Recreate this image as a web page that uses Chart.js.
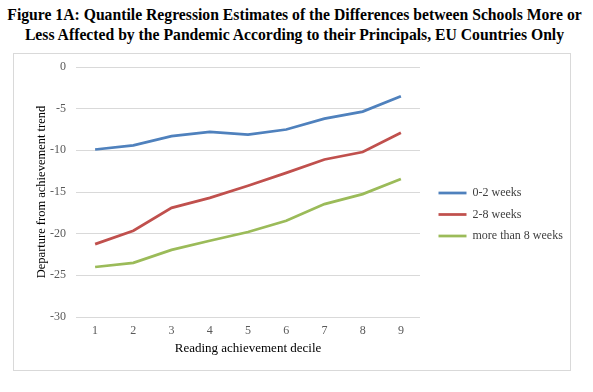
<!DOCTYPE html>
<html>
<head>
<meta charset="utf-8">
<script src="https://cdn.jsdelivr.net/npm/chart.js@4.4.1/dist/chart.umd.min.js"></script>
<style>
  html, body { margin: 0; padding: 0; background: #fff; width: 593px; height: 392px; overflow: hidden; }
  #title { position: absolute; left: 0; top: 5px; width: 589px; text-align: center; white-space: nowrap;
    font-family: "Liberation Serif", "Times New Roman", serif; font-weight: bold; font-size: 15.7px;
    line-height: 20px; color: #000; }
  #box { position: absolute; left: 13px; top: 53px; width: 556px; height: 316px; border: 1px solid #d9d9d9; }
  canvas { display: block; }
</style>
</head>
<body>
<div id="title">Figure 1A: Quantile Regression Estimates of the Differences between Schools More or<br>Less Affected by the Pandemic According to their Principals, EU Countries Only</div>
<div id="box"><canvas id="c" width="556" height="316"></canvas></div>
<script>
const deciles = ["1", "2", "3", "4", "5", "6", "7", "8", "9"];
const weeks0to2 = [-9.9, -9.4, -8.3, -7.8, -8.1, -7.5, -6.2, -5.35, -3.5];
const weeks2to8 = [-21.25, -19.65, -16.9, -15.7, -14.25, -12.7, -11.1, -10.2, -7.9];
const weeksOver8 = [-24.0, -23.5, -21.95, -20.85, -19.8, -18.45, -16.45, -15.25, -13.45];
const seriesNames = ["0-2 weeks", "2-8 weeks", "more than 8 weeks"];
const yTicks = [0, -5, -10, -15, -20, -25, -30];

const serif = "'Liberation Serif', 'Times New Roman', serif";
const colors = ["#4F81BD", "#C0504D", "#9BBB59"];

// widen the legend box and shift its items, so there is a wider gap after the plot area
const legendShift = {
  id: 'legendShift',
  beforeLayout(chart) {
    const lg = chart.legend;
    if (lg && !lg._widened) {
      const origFit = lg.fit.bind(lg);
      lg.fit = function () { origFit(); this.width += 16; };
      lg._widened = true;
    }
  },
  afterLayout(chart) {
    const lg = chart.legend;
    if (lg) { lg.left += 9; lg.right += 9; lg.top += 3; lg.bottom += 3; }
  }
};

new Chart(document.getElementById('c'), {
  type: 'line',
  data: {
    labels: deciles,
    datasets: [weeks0to2, weeks2to8, weeksOver8].map((d, i) => ({
      label: seriesNames[i],
      data: d,
      borderColor: colors[i],
      backgroundColor: colors[i],
      borderWidth: 2.75,
      pointRadius: 0,
      pointHoverRadius: 0,
      tension: 0,
      pointStyle: 'line'
    }))
  },
  plugins: [legendShift],
  options: {
    responsive: false,
    animation: false,
    events: [],
    layout: { padding: { left: 20, right: 0, top: 13, bottom: 14 } },
    plugins: {
      title: { display: false },
      tooltip: { enabled: false },
      legend: {
        position: 'right',
        fullSize: true,
        labels: {
          usePointStyle: true,
          pointStyleWidth: 28,
          boxHeight: 12,
          padding: 9.5,
          color: '#404040',
          font: { family: serif, size: 12 }
        }
      }
    },
    scales: {
      x: {
        type: 'category',
        offset: true,
        grid: { display: false, drawTicks: false },
        border: { display: false },
        ticks: { color: '#595959', font: { family: serif, size: 12 }, padding: 7, maxRotation: 0 },
        title: { display: true, text: 'Reading achievement decile', color: '#000', font: { family: serif, size: 13 }, padding: { top: 3, bottom: 0 } },
        afterFit: (s) => { s.height = 39; }
      },
      y: {
        min: -30,
        max: 0,
        afterBuildTicks: (s) => { s.ticks = yTicks.map(v => ({ value: v })); },
        grid: { color: '#d9d9d9', lineWidth: 1, drawTicks: false },
        border: { display: false },
        ticks: { color: '#595959', font: { family: serif, size: 12 }, padding: 10 },
        title: { display: true, text: 'Departure from achievement trend', color: '#000', font: { family: serif, size: 12.5 }, padding: { top: 0, bottom: 2 } },
        afterFit: (s) => { s.width = 42; s.paddingTop = 0; s.paddingBottom = 0; }
      }
    }
  }
});
</script>
</body>
</html>
